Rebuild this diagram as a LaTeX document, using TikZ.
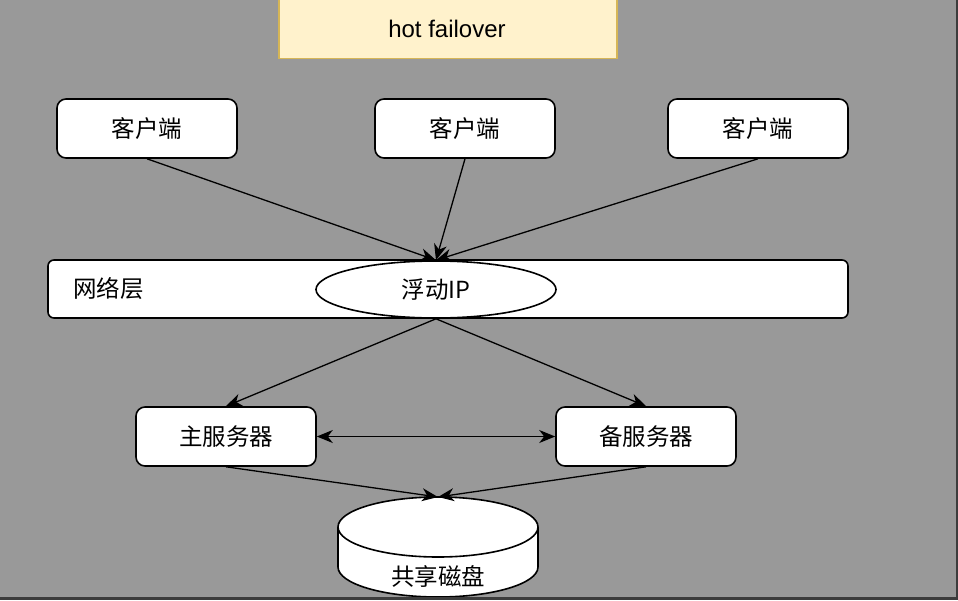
\documentclass[tikz,border=0pt]{standalone}
\usepackage{fontspec}
\usepackage{tikz}
\usetikzlibrary{arrows.meta,shapes.geometric}
\setmainfont{Liberation Sans}
\newfontfamily\cjk{Noto Sans CJK SC}
\definecolor{bgGray}{HTML}{999999}
\definecolor{rimGray}{HTML}{3C3C3C}
\definecolor{noteFill}{HTML}{FFF2CC}
\definecolor{noteLine}{HTML}{D6B656}

\begin{document}
\begin{tikzpicture}[x=1pt, y=-1pt, line width=1.6pt,
		font=\fontsize{24}{28}\selectfont,
		box/.style={draw, fill=white, rounded corners=9pt, minimum width=180pt, minimum height=59pt, font=\cjk\fontsize{23.5}{27}\selectfont},
		link/.style={-{Stealth[length=16pt, width=13pt, inset=5pt]}, line width=1.3pt}]
		\useasboundingbox (0,0) rectangle (958,600);
		\clip (0,0) rectangle (958,600);
		\fill[bgGray] (0,0) rectangle (958,600);
		\draw[rimGray, line width=2.5pt] (957,0) -- (957,598.7) -- (0,598.7);
		% title
		\node[draw=noteLine, fill=noteFill, minimum width=338pt, minimum height=64pt] (T) at (448,26.5) {};
		\node at (447,29) {hot failover};
		% clients
		\node[box] (C1) at (147,128.5) {客户端};
		\node[box] (C2) at (465,128.5) {客户端};
		\node[box] (C3) at (758,128.5) {客户端};
		% network layer
		\node[draw, fill=white, rounded corners=6pt, minimum width=800pt, minimum height=58pt] (N) at (448,289) {};
		\node[anchor=west, font=\cjk\fontsize{23.5}{27}\selectfont] (NL) at (69,289) {网络层};
		\node[draw, fill=white, ellipse, inner sep=0pt, minimum width=240pt, minimum height=57pt, font=\cjk\fontsize{23.5}{27}\selectfont] (IP) at (436,289.5) {浮动IP};
		% servers
		\node[box] (S1) at (226,436.5) {主服务器};
		\node[box] (S2) at (646,436.5) {备服务器};
		% shared disk
		\coordinate (D) at (438,497);
		\draw[fill=white] (338,527) -- (338,567) arc[start angle=180, end angle=360, x radius=100pt, y radius=30pt] -- (538,527);
		\draw[fill=white] (438,527) ellipse[x radius=100pt, y radius=30pt];
		\node[font=\cjk\fontsize{23.5}{27}\selectfont] (SD) at (438,576) {共享磁盘};
		\draw[rimGray, line width=2.5pt] (0,598.7) -- (957,598.7);
		% links
		\draw[link] (C1.south) -- (IP.north);
		\draw[link] (C2.south) -- (IP.north);
		\draw[link] (C3.south) -- (IP.north);
		\draw[link] (IP.south) -- (S1.north);
		\draw[link] (IP.south) -- (S2.north);
		\draw[link, {Stealth[length=16pt, width=13pt, inset=5pt]}-{Stealth[length=16pt, width=13pt, inset=5pt]}] (S1.east) -- (S2.west);
		\draw[link] (S1.south) -- (D);
		\draw[link] (S2.south) -- (D);
		\end{tikzpicture}
\end{document}
